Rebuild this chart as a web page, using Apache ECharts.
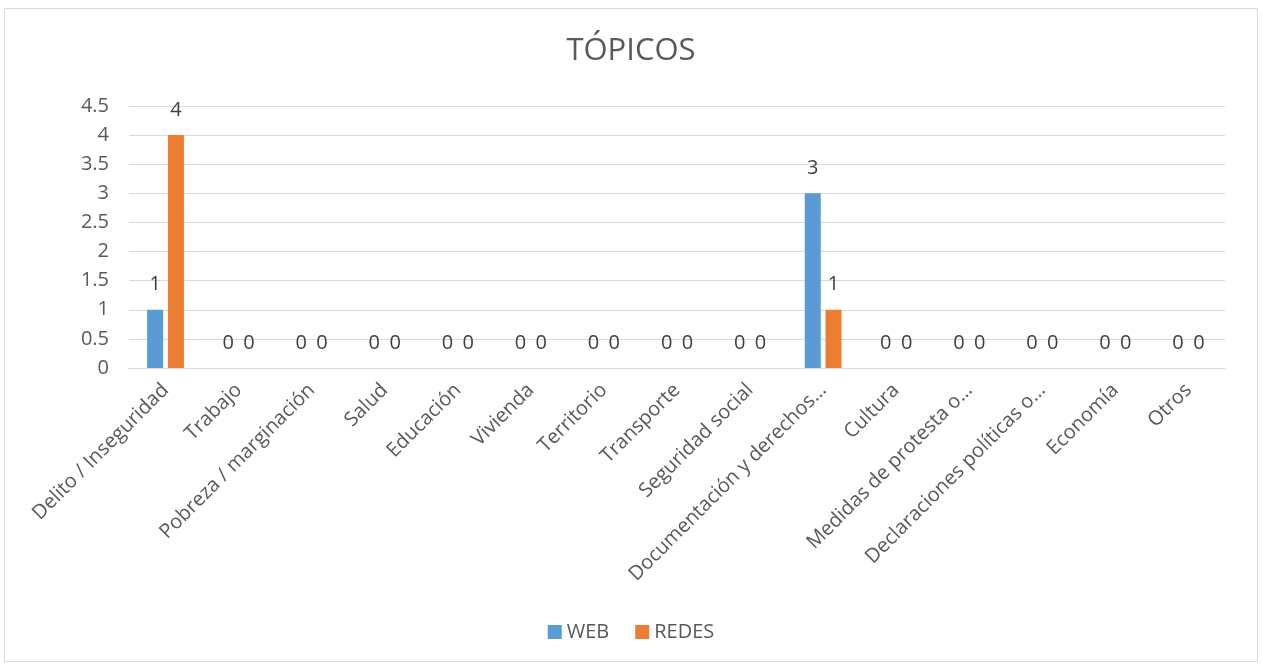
<!DOCTYPE html>
<html>
<head>
<meta charset="utf-8">
<script src="https://cdn.jsdelivr.net/npm/echarts@6/dist/echarts.min.js"></script>
<style>
  html, body { margin: 0; padding: 0; background: #fff; }
  #chart { width: 1262px; height: 666px; }
</style>
</head>
<body>
<div id="chart"></div>
<script>
// data
const categories = [
  'Delito / Inseguridad', 'Trabajo', 'Pobreza / marginación', 'Salud', 'Educación',
  'Vivienda', 'Territorio', 'Transporte', 'Seguridad social', 'Documentación y derechos…',
  'Cultura', 'Medidas de protesta o…', 'Declaraciones políticas o…', 'Economía', 'Otros'
];
const webValues   = [1, 0, 0, 0, 0, 0, 0, 0, 0, 3, 0, 0, 0, 0, 0];
const redesValues = [4, 0, 0, 0, 0, 0, 0, 0, 0, 1, 0, 0, 0, 0, 0];
const yTicks = { min: 0, max: 4.5, interval: 0.5 };

const font = 'Open Sans, Noto Sans, sans-serif';
const grey = '#595959';

const chart = echarts.init(document.getElementById('chart'));

const option = {
  animation: false,
  textStyle: { fontFamily: font },
  graphic: [{
    type: 'rect',
    shape: { x: 4.5, y: 8.5, width: 1253, height: 653 },
    style: { fill: 'none', stroke: '#d9d9d9', lineWidth: 1 },
    silent: true
  }],
  title: {
    text: 'TÓPICOS',
    left: 'center',
    top: 31,
    textStyle: { fontFamily: font, fontSize: 31, fontWeight: 'normal', color: grey }
  },
  legend: {
    bottom: 19,
    left: 'center',
    itemWidth: 14,
    itemHeight: 14,
    itemGap: 26,
    icon: 'rect',
    textStyle: { fontFamily: font, fontSize: 20, color: grey },
    data: ['WEB', 'REDES']
  },
  grid: { left: 129, right: 37, top: 106, bottom: 298 },
  xAxis: {
    type: 'category',
    data: categories,
    axisLine: { lineStyle: { color: '#d9d9d9', width: 1 } },
    axisTick: { show: false },
    axisLabel: {
      rotate: 45,
      interval: 0,
      margin: 19,
      fontFamily: font,
      fontSize: 20,
      color: grey
    }
  },
  yAxis: {
    type: 'value',
    min: yTicks.min,
    max: yTicks.max,
    interval: yTicks.interval,
    axisLine: { show: false },
    axisTick: { show: false },
    splitLine: { lineStyle: { color: '#d9d9d9', width: 1 } },
    axisLabel: { margin: 20, fontFamily: font, fontSize: 20, color: grey }
  },
  series: [
    {
      name: 'WEB',
      type: 'bar',
      data: webValues,
      barWidth: 16,
      barGap: '30%',
      itemStyle: { color: '#5b9bd5' },
      label: { show: true, position: 'top', distance: 15, fontFamily: font, fontSize: 20, color: '#404040' }
    },
    {
      name: 'REDES',
      type: 'bar',
      data: redesValues,
      barWidth: 16,
      itemStyle: { color: '#ed7d31' },
      label: { show: true, position: 'top', distance: 15, fontFamily: font, fontSize: 20, color: '#404040' }
    }
  ]
};

chart.setOption(option);
</script>
</body>
</html>
